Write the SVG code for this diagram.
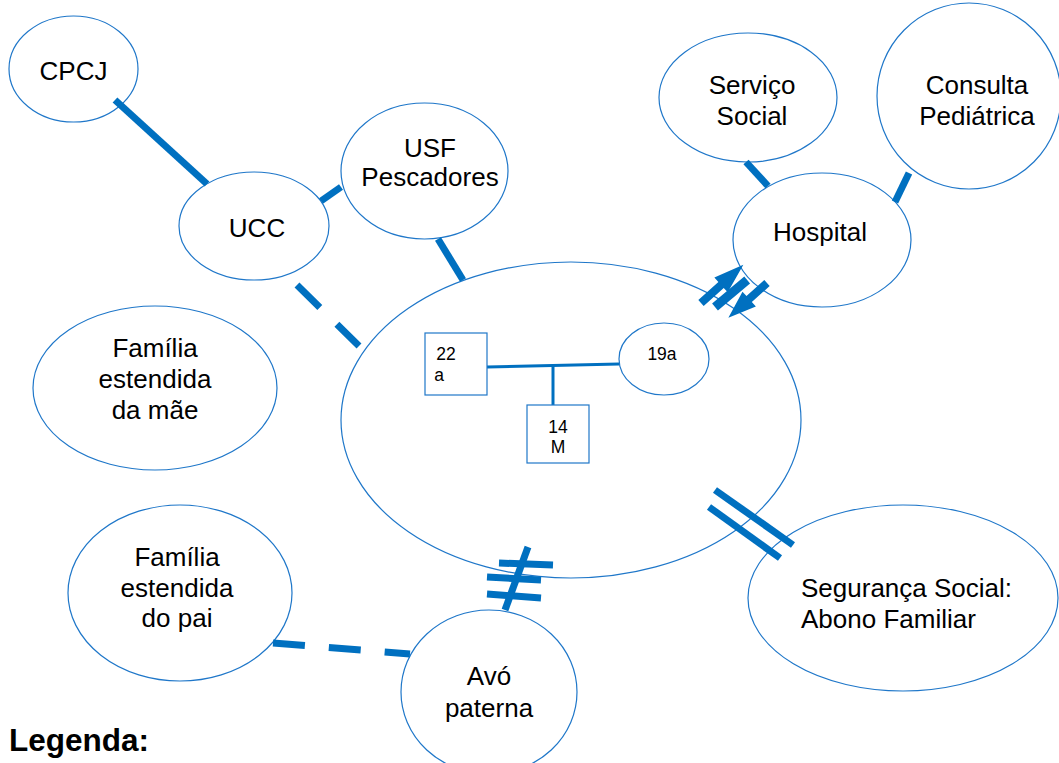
<svg xmlns="http://www.w3.org/2000/svg" width="1059" height="763" viewBox="0 0 1059 763">
<style>
.n{fill:#fff;stroke:#1f77c9;stroke-width:1.2}
.t{font-family:"Liberation Sans",Arial,sans-serif;font-size:26px;fill:#000;text-anchor:middle}
.s{font-family:"Liberation Sans",Arial,sans-serif;font-size:17.5px;fill:#000;text-anchor:middle}
.c{stroke:#0070c0;stroke-width:7;fill:none}
.d{stroke:#0070c0;stroke-width:7;fill:none;stroke-dasharray:32 24}
.g{stroke:#0070c0;stroke-width:3;fill:none}
.a{fill:#0070c0}
</style>
<rect width="1059" height="763" fill="#fff"/>
<g id="cpcj"><ellipse class="n" cx="73.5" cy="69" rx="64.5" ry="53"/><text class="t" x="73.5" y="80">CPCJ</text></g>
<g id="ucc"><ellipse class="n" cx="254" cy="226" rx="75" ry="54"/><text class="t" x="257" y="237">UCC</text></g>
<g id="usf"><ellipse class="n" cx="424.5" cy="171" rx="83.5" ry="68"/><text class="t" x="430" y="157">USF</text><text class="t" x="430" y="186">Pescadores</text></g>
<g id="servico"><ellipse class="n" cx="748" cy="97.5" rx="89" ry="64.5"/><text class="t" x="752" y="94">Serviço</text><text class="t" x="752" y="125">Social</text></g>
<g id="consulta"><ellipse class="n" cx="969" cy="96" rx="92" ry="93"/><text class="t" x="977" y="94">Consulta</text><text class="t" x="977" y="125">Pediátrica</text></g>
<g id="hospital"><ellipse class="n" cx="822" cy="240" rx="89" ry="67"/><text class="t" x="820" y="241">Hospital</text></g>
<g id="familia-mae"><ellipse class="n" cx="155" cy="388" rx="122" ry="82"/><text class="t" x="155" y="357">Família</text><text class="t" x="155" y="388">estendida</text><text class="t" x="155" y="419">da mãe</text></g>
<g id="familia-pai"><ellipse class="n" cx="180" cy="593" rx="112" ry="88"/><text class="t" x="177" y="566">Família</text><text class="t" x="177" y="597">estendida</text><text class="t" x="177" y="627">do pai</text></g>
<g id="seguranca"><ellipse class="n" cx="903" cy="598" rx="155" ry="93"/><text class="t" x="801" y="597" style="text-anchor:start">Segurança Social:</text><text class="t" x="801" y="628" style="text-anchor:start">Abono Familiar</text></g>
<g id="avo"><ellipse class="n" cx="489" cy="692" rx="88" ry="82"/><text class="t" x="489" y="685">Avó</text><text class="t" x="489" y="717">paterna</text></g>
<g id="familia">
<ellipse class="n" cx="571" cy="420" rx="230" ry="158"/>
<line class="g" x1="487" y1="367" x2="619" y2="364"/>
<line class="g" x1="553" y1="366" x2="553" y2="406"/>
<rect class="n" x="425" y="333" width="62" height="62"/>
<text class="s" x="446" y="360">22</text><text class="s" x="439" y="381">a</text>
<rect class="n" x="527" y="405" width="62" height="58"/>
<text class="s" x="558" y="433">14</text><text class="s" x="558" y="453">M</text>
<ellipse class="n" cx="664" cy="359" rx="45" ry="36"/>
<text class="s" x="662" y="360">19a</text>
</g>
<g id="connectors">
<line class="c" x1="115" y1="100" x2="207" y2="184"/>
<line class="c" x1="321" y1="201" x2="341" y2="187"/>
<line class="c" x1="438" y1="239" x2="463" y2="280"/>
<line class="d" x1="297" y1="285" x2="359" y2="346"/>
<line class="c" x1="746" y1="162" x2="768" y2="186"/>
<line class="c" x1="909" y1="173" x2="895" y2="202"/>
<polygon class="a" transform="translate(701,303) rotate(-42)" points="0,-4 27,-4 27,-10 57,0 27,10 27,4 0,4"/>
<rect class="a" transform="translate(715,307) rotate(-40)" x="0" y="-4.5" width="42" height="9"/>
<polygon class="a" transform="translate(767,283) rotate(138)" points="0,-4 24,-4 24,-10 52,0 24,10 24,4 0,4"/>
<line class="c" x1="715" y1="490" x2="793" y2="545"/>
<line class="c" x1="709" y1="507" x2="780" y2="558"/>
<line class="c" x1="528" y1="547" x2="505" y2="610"/>
<line class="c" x1="499" y1="563" x2="553" y2="565"/>
<line class="c" x1="487" y1="577" x2="541" y2="580"/>
<line class="c" x1="487" y1="594" x2="541" y2="598"/>
<line class="d" x1="273" y1="643" x2="410" y2="654"/>
</g>
<text x="9" y="751" style="font-family:'Liberation Sans',Arial,sans-serif;font-size:31.5px;font-weight:bold">Legenda:</text>
</svg>
